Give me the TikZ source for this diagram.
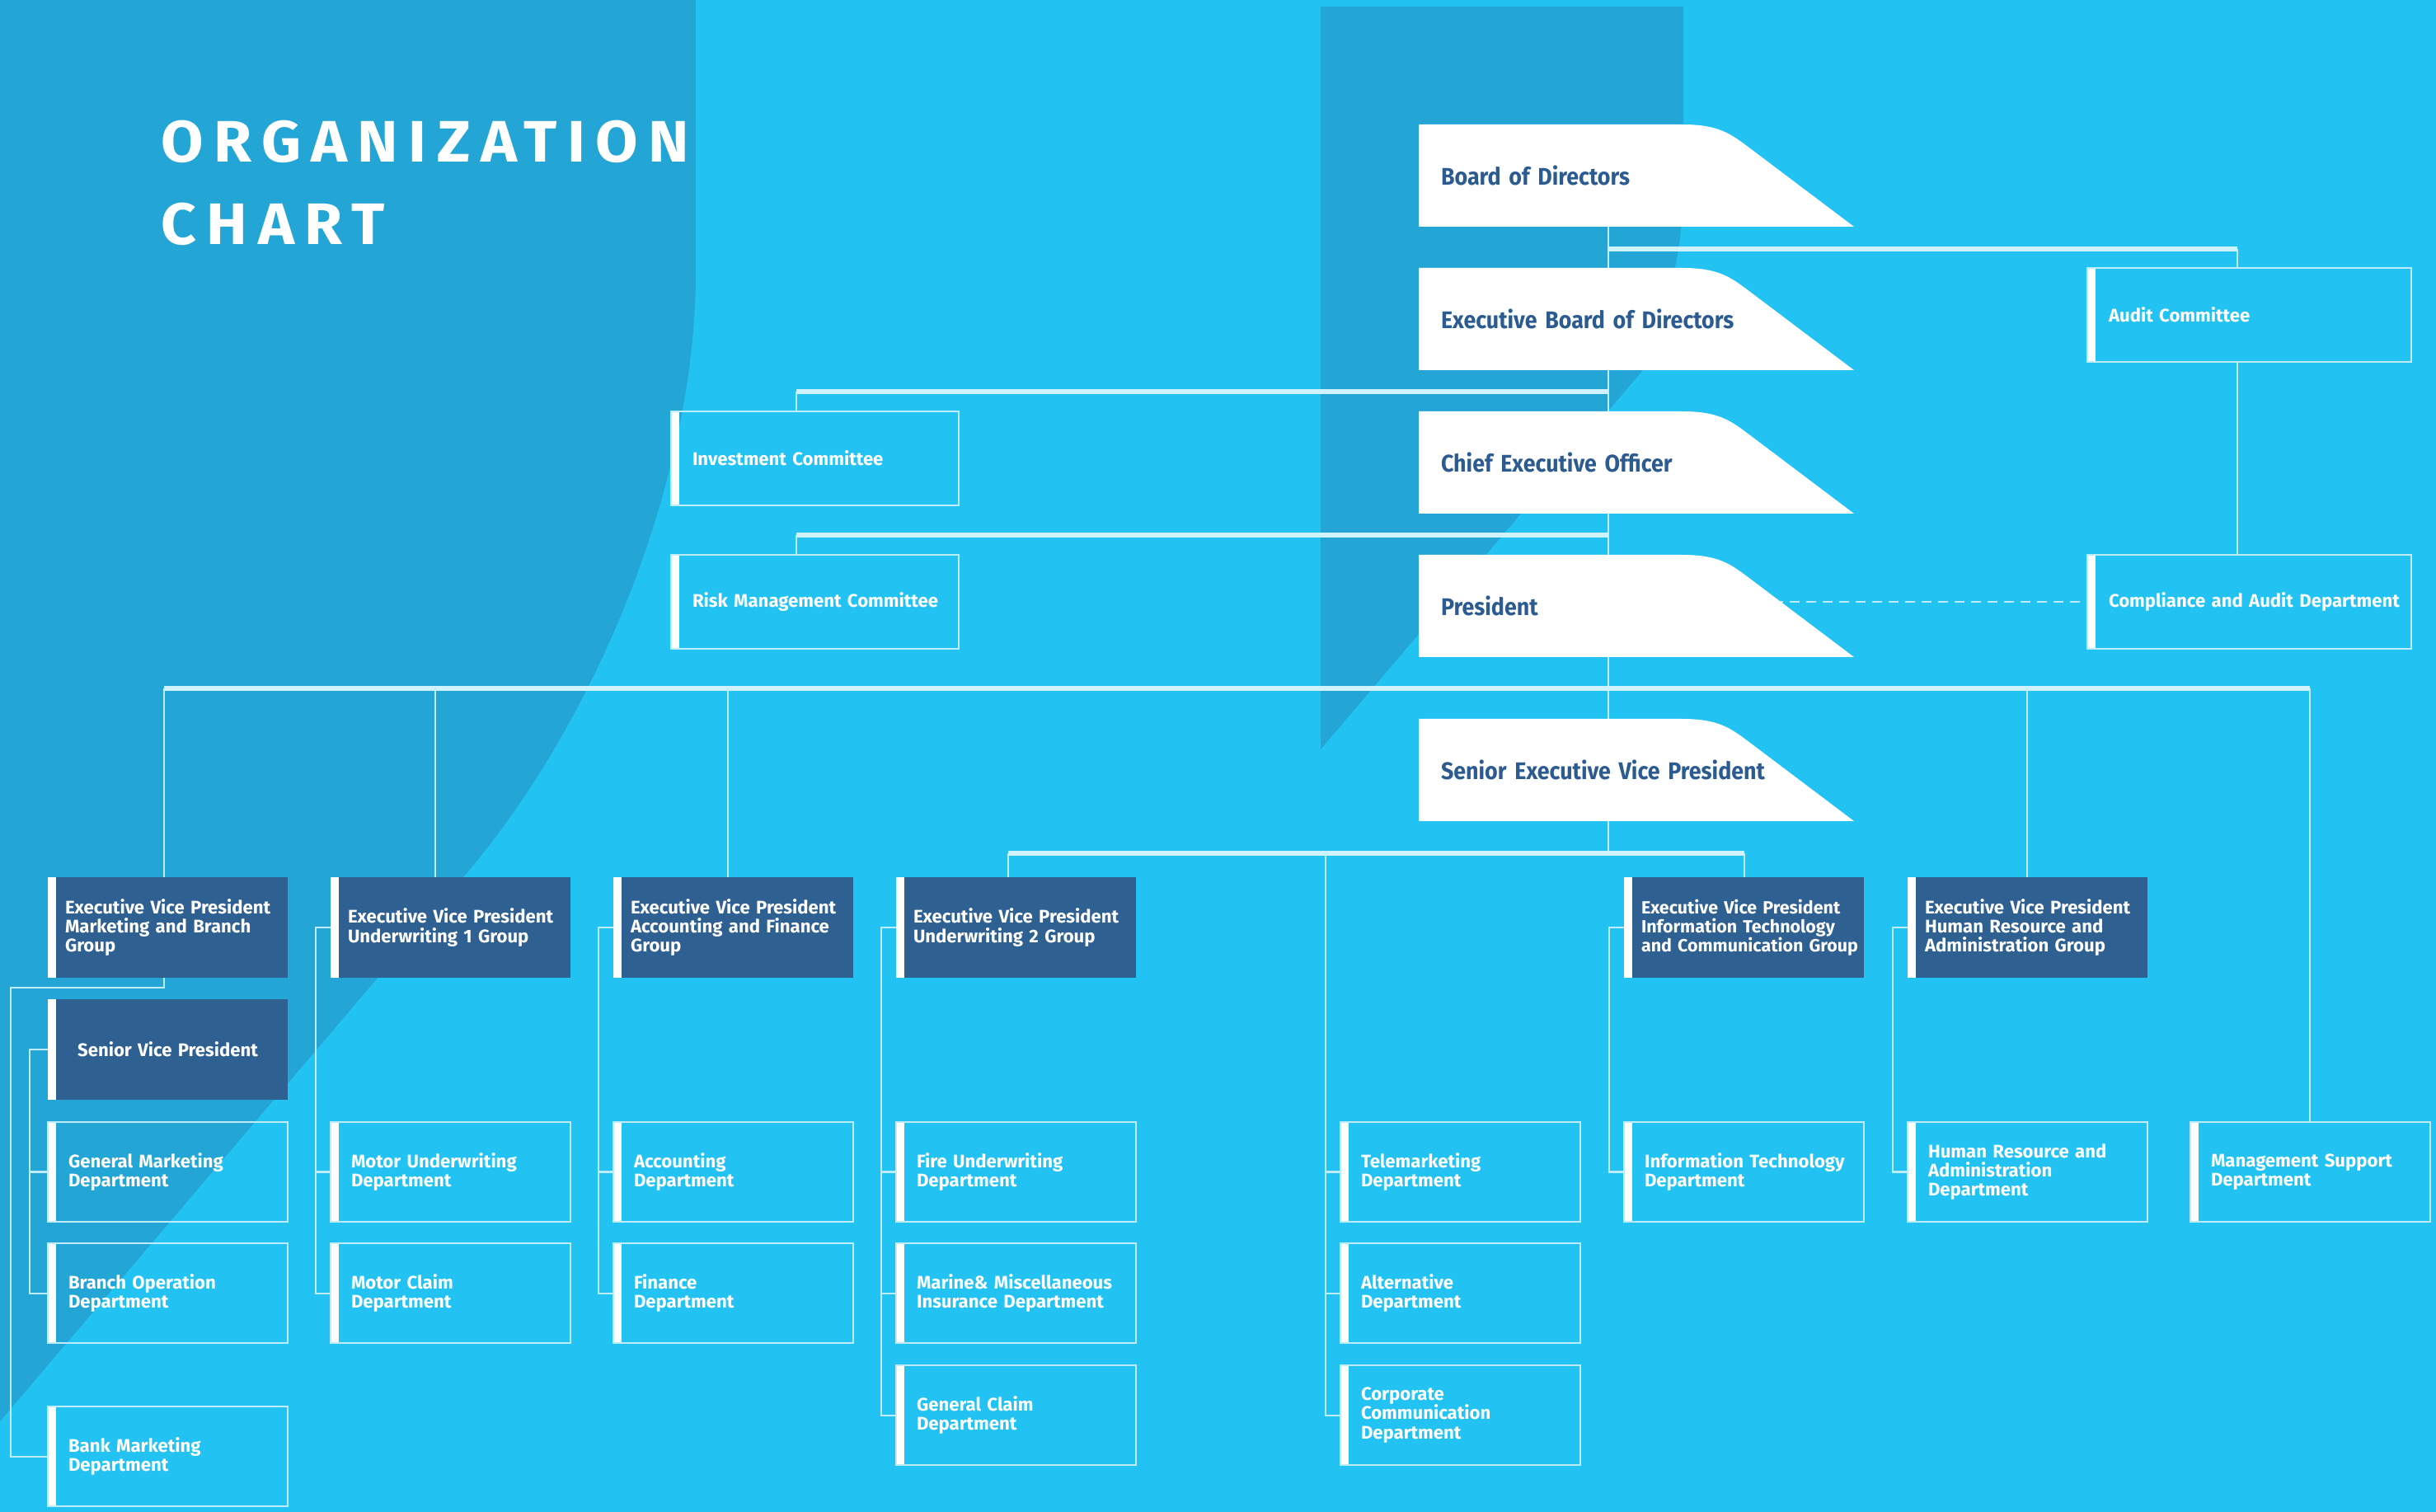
\documentclass[tikz,border=0pt]{standalone}
\usepackage{fontspec}
\setmainfont{Fira Sans}
\newfontfamily\tabfont{Fira Sans}[FakeStretch=0.92]
\newfontfamily\titlefont{Fira Sans}[FakeStretch=1.05, LetterSpace=17.5]
\usetikzlibrary{positioning, backgrounds}

\definecolor{skyblue}{HTML}{22C3F3}
\definecolor{deepsky}{HTML}{23A5D6}
\definecolor{navy}{HTML}{2E6191}
\definecolor{navytext}{HTML}{2B5B90}
\definecolor{busclr}{HTML}{D0F2FD}
\definecolor{linkclr}{HTML}{BFECFB}

\begin{document}
\begin{tikzpicture}[
	font=\bfseries,
	% Define styles
	textindent/.style={execute at begin node={\leftskip=#1}},
	sidebar/.style={path picture={\fill[white] (path picture bounding box.north west) rectangle ([xshift=0.1cm]path picture bounding box.south west);}},
	tabbox/.style={rectangle, inner xsep=0pt, outer sep=0pt, minimum height=1.24cm, text width=4.6cm, align=left, textindent=0.27cm, text=navytext, font=\tabfont\fontsize{8.3}{10}\bfseries},
	committee/.style={rectangle, sidebar, draw=linkclr, line width=0.02cm, inner xsep=0pt, outer sep=0pt, minimum height=1.14cm, text width=#1, align=left, textindent=0.26cm, text=white, font=\fontsize{6.3}{6.6}\bfseries},
	evpbox/.style={rectangle, sidebar, fill=navy, inner xsep=0pt, outer sep=0pt, minimum height=1.22cm, text width=2.91cm, align=left, textindent=0.21cm, text=white, font=\fontsize{6.3}{6.6}\bfseries},
	deptbox/.style={evpbox, fill=none, draw=linkclr, line width=0.02cm, minimum height=1.21cm, textindent=0.25cm},
	bus/.style={line width=0.065cm, busclr},
	link/.style={line width=0.02cm, linkclr}
	]
	\useasboundingbox (0,0) rectangle (29.55,-18.34);
	
	% Title
	\node[anchor=north west, inner sep=0pt, align=left, text=white, font=\titlefont\fontsize{20.2}{28.7}\bfseries] (title) at (1.95,-1.45) {ORGANIZATION\\CHART};
	
	% 1. Board down to senior executive vice president
	\node[tabbox, anchor=north west] (board) at (17.21,-1.51) {Board of Directors};
	\node[tabbox, below=0.50cm of board] (execboard) {Executive Board of Directors};
	\node[tabbox, below=0.50cm of execboard] (ceo) {Chief Executive Officer};
	\node[tabbox, below=0.50cm of ceo] (pres) {President};
	\node[tabbox, below=0.75cm of pres] (sevp) {Senior Executive Vice President};
	
	% 2. Committees
	\node[committee=3.49cm, anchor=north west] (invest) at (8.14,-4.99) {Investment Committee};
	\node[committee=3.49cm, below=0.60cm of invest] (risk) {Risk Management Committee};
	\node[committee=3.93cm, anchor=north west] (audit) at (25.32,-3.25) {Audit Committee};
	\node[committee=3.93cm, anchor=north west] (comp) at (25.32,-6.73) {Compliance and Audit Department};
	
	% 3. Groups
	\node[evpbox, anchor=north west] (evpmkt) at (0.58,-10.64) {Executive Vice President\\Marketing and Branch\\Group};
	\node[evpbox, anchor=north west] (evpuw1) at (4.01,-10.64) {Executive Vice President\\Underwriting 1 Group};
	\node[evpbox, anchor=north west] (evpacc) at (7.44,-10.64) {Executive Vice President\\Accounting and Finance\\Group};
	\node[evpbox, anchor=north west] (evpuw2) at (10.87,-10.64) {Executive Vice President\\Underwriting 2 Group};
	\node[evpbox, font=\fontsize{6.1}{6.6}\bfseries, anchor=north west] (evpit) at (19.70,-10.64) {Executive Vice President\\Information Technology\\\mbox{and Communication Group}};
	\node[evpbox, anchor=north west] (evphr) at (23.14,-10.64) {Executive Vice President\\Human Resource and\\Administration Group};
	\node[evpbox, align=center, execute at begin node={\leftskip=0pt plus 1fil\rightskip=0pt plus 1fil\parfillskip=0pt}, below=0.26cm of evpmkt] (svp) {Senior Vice President};
	
	% 4. Departments
	\node[deptbox, below=0.27cm of svp] (genmkt) {General Marketing\\Department};
	\node[deptbox, below=0.26cm of genmkt] (branch) {Branch Operation\\Department};
	\node[deptbox, below=0.77cm of branch] (bank) {Bank Marketing\\Department};
	
	\node[deptbox, below=1.75cm of evpuw1] (motoruw) {Motor Underwriting\\Department};
	\node[deptbox, below=0.26cm of motoruw] (motorclaim) {Motor Claim\\Department};
	
	\node[deptbox, below=1.75cm of evpacc] (accounting) {Accounting\\Department};
	\node[deptbox, below=0.26cm of accounting] (finance) {Finance\\Department};
	
	\node[deptbox, below=1.75cm of evpuw2] (fireuw) {Fire Underwriting\\Department};
	\node[deptbox, below=0.26cm of fireuw] (marine) {Marine\& Miscellaneous\\Insurance Department};
	\node[deptbox, below=0.27cm of marine] (genclaim) {General Claim\\Department};
	
	\node[deptbox, anchor=north west] (tele) at (16.26,-13.61) {Telemarketing\\Department};
	\node[deptbox, below=0.26cm of tele] (alt) {Alternative\\Department};
	\node[deptbox, below=0.27cm of alt] (corp) {Corporate\\Communication\\Department};
	
	\node[deptbox, below=1.75cm of evpit] (itdept) {Information Technology\\Department};
	\node[deptbox, below=1.75cm of evphr] (hrdept) {Human Resource and\\Administration\\Department};
	\node[deptbox, anchor=north west] (mgmt) at (26.57,-13.61) {Management Support\\Department};
	
	% Bus lines and joints
	\coordinate (auditbus) at ([yshift=-0.27cm]board.south);
	\coordinate (audittop) at ([xshift=-0.15cm]audit.north);
	\coordinate (investbus) at ([yshift=-0.26cm]execboard.south);
	\coordinate (investtop) at ([xshift=-0.23cm]invest.north);
	\coordinate (riskbus) at ([yshift=-0.26cm]ceo.south);
	\coordinate (risktop) at ([xshift=-0.23cm]risk.north);
	\coordinate (mainbus) at ([yshift=-0.38cm]pres.south);
	\coordinate (sevpbus) at ([yshift=-0.39cm]sevp.south);
	\coordinate (telejoin) at ([xshift=-0.18cm]tele.west);
	\foreach \n/\dx in {evpmkt/-0.045, evpuw1/-0.185, evpacc/-0.065, evpuw2/-0.095, evpit/0, evphr/-0.01, mgmt/-0.01}
		\coordinate (j\n) at ([xshift=\dx cm]\n.north);
	
	\begin{scope}[on background layer]
		% Backdrop panels
		\fill[skyblue] (0,0) rectangle (29.55,-18.34);
		\fill[deepsky] (0,0) -- (8.44,0) -- (8.44,-3.3) .. controls (8.44,-5.8) and (7.25,-8.73) .. (5.63,-10.63) -- (0,-17.24) -- cycle;
		\fill[deepsky] (16.02,-0.08) -- (20.42,-0.08) -- (20.42,-2.2) .. controls (20.42,-3.1) and (20.25,-3.6) .. (19.92,-4.5) -- (16.02,-9.09) -- cycle;
		
		% Top chain
		\draw[link] (board.south) -- (sevp.north);
		\draw[link] (sevp.south) -- (sevpbus);
		
		% Committees
		\draw[bus] (auditbus) -- (auditbus -| audittop);
		\draw[link] (auditbus -| audittop) -- (audittop);
		\draw[link] (audittop |- audit.south) -- (audittop |- comp.north);
		\draw[link, dash pattern=on 0.12cm off 0.08cm] (pres.center |- comp.west) -- (comp.west);
		\draw[bus] (investbus) -- (investbus -| investtop);
		\draw[link] (investbus -| investtop) -- (investtop);
		\draw[bus] (riskbus) -- (riskbus -| risktop);
		\draw[link] (riskbus -| risktop) -- (risktop);
		
		% Group buses
		\draw[bus] (jevpmkt |- mainbus) -- (jmgmt |- mainbus);
		\foreach \n in {evpmkt, evpuw1, evpacc, evphr, mgmt}
			\draw[link] (j\n |- mainbus) -- (j\n);
		\draw[bus] (jevpuw2 |- sevpbus) -- (jevpit |- sevpbus);
		\foreach \n in {evpuw2, evpit}
			\draw[link] (j\n |- sevpbus) -- (j\n);
		
		% Department brackets
		\draw[link] (jevpmkt |- evpmkt.south) -- ++(0,-0.12) -| ([xshift=-0.45cm]bank.west) -- (bank.west);
		\draw[link] (svp.west) -| ([xshift=-0.22cm]branch.west) -- (branch.west);
		\draw[link] ([xshift=-0.22cm]genmkt.west) -- (genmkt.west);
		\foreach \a/\b in {evpuw1/motorclaim, evpacc/finance, evpuw2/genclaim, evpit/itdept, evphr/hrdept}
			\draw[link] (\a.west) -| ([xshift=-0.18cm]\b.west) -- (\b.west);
		\draw[link] (telejoin |- sevpbus) -- ([xshift=-0.18cm]corp.west) -- (corp.west);
		\foreach \n in {motoruw, accounting, fireuw, marine, tele, alt}
			\draw[link] ([xshift=-0.18cm]\n.west) -- (\n.west);
		
		% Tab heads for the top chain
		\foreach \n in {board, execboard, ceo, pres, sevp}
			\fill[white] (\n.north west) -- ++(3.19,0) .. controls +(0.45,0) and +(-0.24,0.18) .. ++(0.83,-0.29) -- ++(1.26,-0.95) -- (\n.south west) -- cycle;
	\end{scope}
\end{tikzpicture}
\end{document}
